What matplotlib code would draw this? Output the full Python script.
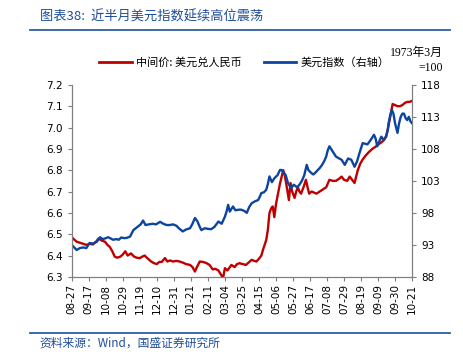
#!/usr/bin/env python3
"""USD index vs USD/CNY central parity, Aug 2021 - Oct 2022."""
import pandas as pd
import matplotlib
matplotlib.use('Agg')
import matplotlib.pyplot as plt
from matplotlib.lines import Line2D

plt.rcParams['font.family'] = ['DejaVu Sans', 'Noto Sans CJK SC']

START = pd.Timestamp('2021-08-27')

# days since 2021-08-27
cny_days = [0, 3, 6, 10, 14, 18, 22, 26, 30, 33, 37, 41, 44, 47, 50, 53, 56, 60, 63, 66,
            69, 73, 77, 80, 84, 87, 90, 94, 98, 101, 105, 108, 111, 115, 118, 121, 125, 129,
            133, 137, 141, 146, 149, 152, 155, 158, 162, 166, 170, 174, 177, 181, 185, 187,
            189, 192, 195, 197, 201, 204, 207, 211, 215, 219, 222, 225, 228, 232, 234, 236,
            238, 240, 242, 244, 246, 248, 250, 252, 255, 257, 259, 261, 263, 265, 268, 270,
            272, 275, 277, 279, 281, 283, 286, 289, 291, 293, 296, 299, 302, 306, 310, 314,
            318, 322, 326, 330, 333, 336, 340, 343, 346, 349, 353, 356, 359, 363, 367, 371,
            375, 378, 382, 385, 388, 390, 392, 394, 396, 399, 402, 405, 408, 411, 414, 417, 420]
cny_mid = [6.486, 6.475, 6.465, 6.46, 6.455, 6.45, 6.455, 6.452, 6.465, 6.48, 6.47, 6.465,
           6.45, 6.44, 6.42, 6.395, 6.39, 6.395, 6.405, 6.42, 6.40, 6.41, 6.395, 6.39, 6.388,
           6.395, 6.40, 6.385, 6.372, 6.365, 6.36, 6.37, 6.37, 6.388, 6.372, 6.377, 6.372,
           6.375, 6.372, 6.367, 6.36, 6.356, 6.346, 6.325, 6.35, 6.372, 6.37, 6.365, 6.356,
           6.335, 6.338, 6.33, 6.305, 6.30, 6.341, 6.33, 6.345, 6.356, 6.346, 6.36, 6.364,
           6.36, 6.356, 6.37, 6.38, 6.375, 6.372, 6.39, 6.40, 6.427, 6.45, 6.473, 6.52, 6.60,
           6.62, 6.63, 6.58, 6.64, 6.70, 6.738, 6.77, 6.80, 6.775, 6.73, 6.66, 6.74, 6.70,
           6.67, 6.70, 6.72, 6.70, 6.69, 6.72, 6.755, 6.72, 6.69, 6.70, 6.695, 6.69, 6.70,
           6.71, 6.72, 6.755, 6.75, 6.75, 6.76, 6.77, 6.755, 6.75, 6.77, 6.755, 6.74, 6.80,
           6.83, 6.85, 6.87, 6.886, 6.90, 6.91, 6.92, 6.93, 6.94, 6.96, 6.99, 7.03, 7.07,
           7.11, 7.105, 7.10, 7.10, 7.105, 7.115, 7.12, 7.12, 7.125]

dxy_days = [0, 3, 6, 10, 14, 18, 22, 26, 31, 35, 38, 41, 45, 48, 51, 55, 58, 61, 65, 68,
            72, 76, 79, 82, 85, 88, 91, 95, 100, 104, 109, 113, 117, 121, 125, 129, 133, 137,
            141, 146, 149, 152, 155, 158, 160, 164, 168, 172, 176, 181, 185, 189, 191, 193,
            195, 197, 199, 202, 206, 209, 213, 216, 219, 222, 226, 230, 232, 234, 237, 240,
            242, 244, 247, 250, 254, 257, 259, 262, 264, 267, 269, 271, 274, 278, 281, 284,
            287, 290, 292, 295, 298, 300, 303, 306, 309, 312, 314, 316, 318, 320, 323, 326,
            330, 333, 337, 341, 345, 349, 352, 355, 359, 362, 365, 369, 373, 375, 377, 380,
            382, 385, 388, 390, 391, 393, 395, 397, 399, 402, 404, 406, 408, 410, 412, 414,
            416, 418, 420]
dxy = [93.0, 92.6, 92.2, 92.5, 92.6, 92.5, 93.3, 93.2, 93.5, 94.2, 93.9, 94.0, 94.2, 94.0,
       93.8, 93.9, 93.8, 94.15, 94.05, 94.1, 94.3, 95.3, 95.6, 95.9, 96.2, 96.8, 96.1, 96.2,
       96.3, 96.2, 96.6, 96.3, 96.1, 96.1, 96.2, 96.0, 95.5, 95.1, 95.4, 95.6, 96.3, 97.2,
       96.7, 95.8, 95.3, 95.6, 95.5, 95.45, 95.8, 96.65, 96.3, 97.4, 98.2, 99.25, 98.2, 98.6,
       99.0, 98.4, 98.5, 98.5, 98.3, 98.0, 98.9, 99.5, 99.8, 100.0, 100.5, 101.1, 101.2,
       101.6, 102.5, 103.7, 102.8, 103.4, 103.9, 104.7, 104.7, 104.2, 103.9, 102.6, 102.2,
       101.9, 102.4, 102.0, 102.4, 103.0, 103.9, 105.5, 104.7, 104.3, 104.0, 104.2, 104.6,
       105.0, 105.5, 106.2, 106.8, 107.8, 108.4, 108.0, 107.4, 106.8, 106.5, 106.3, 105.5,
       106.5, 106.3, 105.2, 106.0, 107.3, 108.9, 108.8, 108.7, 109.4, 110.2, 109.6, 108.4,
       109.3, 109.9, 109.4, 109.9, 111.0, 112.0, 113.2, 114.1, 113.5, 112.0, 110.5, 112.0,
       113.0, 113.5, 113.5, 112.8, 112.5, 113.0, 112.3, 112.0]

cny_dates = START + pd.to_timedelta(cny_days, unit='D')
dxy_dates = START + pd.to_timedelta(dxy_days, unit='D')
xticks = pd.date_range(START, periods=21, freq='21D')

RED = '#C00000'
BLUE = '#0B45A0'
GRID = '#7F7F7F'
TITLE_BLUE = '#1F4E9A'
CJK = ['Noto Sans CJK SC', 'DejaVu Sans']

fig = plt.figure(figsize=(4.63, 3.61), dpi=100)
ax = fig.add_axes([0.155, 0.233, 0.735, 0.532])
ax2 = ax.twinx()

ax.plot(cny_dates, cny_mid, color=RED, lw=1.7)
ax2.plot(dxy_dates, dxy, color=BLUE, lw=1.7)

ax.set_xlim(xticks[0], xticks[-1])
ax.set_ylim(6.3, 7.2)
ax2.set_ylim(88, 118)
ax.set_yticks([6.3 + 0.1 * i for i in range(10)])
ax.set_yticklabels([f'{6.3 + 0.1 * i:.1f}' for i in range(10)])
ax2.set_yticks(range(88, 119, 5))
ax.set_xticks(xticks)
ax.set_xticklabels([d.strftime('%m-%d') for d in xticks], rotation=90)

for a in (ax, ax2):
    a.spines['top'].set_visible(False)
    for s in ('left', 'right', 'bottom'):
        a.spines[s].set_color(GRID)
        a.spines[s].set_linewidth(0.8)
    a.tick_params(axis='both', colors=GRID, labelcolor='black', labelsize=7.5,
                  length=3, width=0.8, direction='out')
ax.tick_params(axis='x', pad=2)

# title and bars
fig.text(0.086, 0.953, '图表38:  近半月美元指数延续高位震荡', family=CJK,
         fontsize=9.5, color=TITLE_BLUE, va='center', ha='left')
fig.add_artist(Line2D([0.065, 0.972], [0.917, 0.917], color='#2E5DA8', lw=1.3))
fig.add_artist(Line2D([0.065, 0.972], [0.077, 0.077], color='#2E5DA8', lw=1.3))
fig.text(0.086, 0.05, '资料来源：Wind，国盛证券研究所', family=CJK,
         fontsize=8.5, color=TITLE_BLUE, va='center', ha='left')

# legend
handles = [Line2D([], [], color=RED, lw=2), Line2D([], [], color=BLUE, lw=2)]
fig.legend(handles, ['中间价: 美元兑人民币', '美元指数（右轴）'],
           loc='center', bbox_to_anchor=(0.528, 0.828), ncol=2, frameon=False,
           prop={'family': CJK, 'size': 8}, handlelength=2.9, handletextpad=0.4,
           columnspacing=2.0)
fig.text(0.957, 0.833, '1973年3月\n=100', family=['Liberation Serif', 'Noto Sans CJK SC'],
         fontsize=8.5, ha='right', va='center', multialignment='right', linespacing=1.3)

plt.savefig('out.png', dpi=100, facecolor='white')
plt.close()
